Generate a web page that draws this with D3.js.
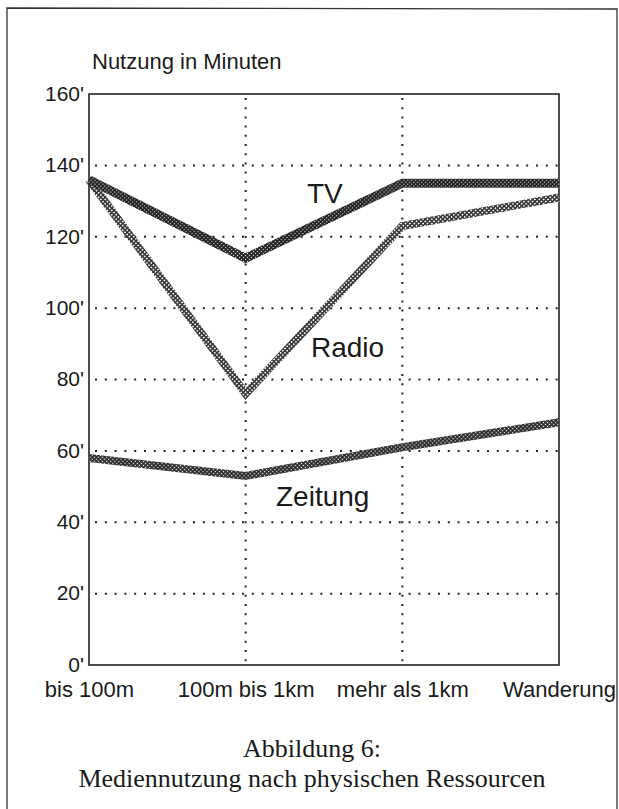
<!DOCTYPE html>
<html>
<head>
<meta charset="utf-8">
<script src="https://cdn.jsdelivr.net/npm/d3@7/dist/d3.min.js"></script>
<style>
  html, body { margin: 0; padding: 0; background: #fff; }
  svg { display: block; }
  .sans { font-family: "Liberation Sans", Arial, Helvetica, sans-serif; fill: #1a1a1a; }
  .serif { font-family: "Liberation Serif", "Times New Roman", serif; fill: #1a1a1a; }
</style>
</head>
<body>
<svg id="chart" width="619" height="809"></svg>
<script>
// ---- data ----
const categories = ["bis 100m", "100m bis 1km", "mehr als 1km", "Wanderung"];
const tvValues = [136, 114, 135, 135];
const radioValues = [136, 76, 123, 131];
const zeitungValues = [58, 53, 61, 68];
const yTickValues = [0, 20, 40, 60, 80, 100, 120, 140, 160];
const yTickLabels = ["0'", "20'", "40'", "60'", "80'", "100'", "120'", "140'", "160'"];
const seriesNames = ["TV", "Radio", "Zeitung"];
const axisTitle = "Nutzung in Minuten";
const captionLines = ["Abbildung 6:", "Mediennutzung nach physischen Ressourcen"];

// ---- layout ----
const plot = { left: 89, right: 559, top: 94, bottom: 665 };
const svg = d3.select("#chart");

const x = d3.scalePoint().domain(categories).range([plot.left, plot.right]);
const y = d3.scaleLinear().domain([0, 160]).range([plot.bottom, plot.top]);

// patterns for the screened (dithered) lines
const defs = svg.append("defs");
function pattern(id, bg, dot, size, dotSize) {
  const p = defs.append("pattern").attr("id", id)
    .attr("patternUnits", "userSpaceOnUse")
    .attr("width", size).attr("height", size)
    .attr("patternTransform", "rotate(45)");
  p.append("rect").attr("width", size).attr("height", size).attr("fill", bg);
  p.append("circle").attr("cx", size / 2).attr("cy", size / 2).attr("r", dotSize).attr("fill", dot);
}
pattern("patTV", "#1f1f1f", "#f0f0f0", 2.8, 0.62);
pattern("patRadio", "#333333", "#ffffff", 3.1, 0.9);
pattern("patZeitung", "#2a2a2a", "#f4f4f4", 2.9, 0.75);

// outer frame
svg.append("path")
  .attr("d", "M7,809 L7,8 L617,9 L617,809")
  .attr("fill", "none").attr("stroke", "#333").attr("stroke-width", 1.3);

// horizontal dotted gridlines
svg.append("g").selectAll("line")
  .data(yTickValues.filter(v => v > 0 && v < 160))
  .join("line")
  .attr("x1", plot.left).attr("x2", plot.right)
  .attr("y1", d => y(d)).attr("y2", d => y(d))
  .attr("stroke", "#222").attr("stroke-width", 2)
  .attr("stroke-dasharray", "2,7.8")
  .attr("stroke-dashoffset", -6);

// vertical dotted gridlines
svg.append("g").selectAll("line")
  .data(categories.slice(1, 3))
  .join("line")
  .attr("x1", d => x(d)).attr("x2", d => x(d))
  .attr("y1", plot.top).attr("y2", plot.bottom)
  .attr("stroke", "#222").attr("stroke-width", 2)
  .attr("stroke-dasharray", "2,7.2")
  .attr("stroke-dashoffset", -4);

// plot box
svg.append("rect")
  .attr("x", plot.left).attr("y", plot.top)
  .attr("width", plot.right - plot.left).attr("height", plot.bottom - plot.top)
  .attr("fill", "none").attr("stroke", "#222").attr("stroke-width", 1.6);

// y axis labels via d3 axis
const yAxis = d3.axisLeft(y).tickValues(yTickValues)
  .tickFormat((d, i) => yTickLabels[i]).tickSize(0).tickPadding(5);
const gy = svg.append("g").attr("transform", `translate(${plot.left},0)`).call(yAxis);
gy.select(".domain").remove();
gy.selectAll("text").attr("font-size", 21).attr("dy", "0.3em")
  .style("font-family", "'Liberation Sans', Arial, sans-serif").attr("fill", "#1a1a1a");

// x axis labels
const xAxis = d3.axisBottom(x).tickSize(0).tickPadding(16);
const gx = svg.append("g").attr("transform", `translate(0,${plot.bottom})`).call(xAxis);
gx.select(".domain").remove();
gx.selectAll("text").attr("font-size", 22)
  .style("font-family", "'Liberation Sans', Arial, sans-serif").attr("fill", "#1a1a1a");

// axis title
svg.append("text").attr("class", "sans")
  .attr("x", 92).attr("y", 69).attr("font-size", 22).text(axisTitle);

// lines
const line = d3.line().x((d, i) => x(categories[i])).y(d => y(d)).curve(d3.curveLinear);
const series = [
  { name: seriesNames[1], values: radioValues, pat: "url(#patRadio)", w: 8 },
  { name: seriesNames[2], values: zeitungValues, pat: "url(#patZeitung)", w: 8 },
  { name: seriesNames[0], values: tvValues, pat: "url(#patTV)", w: 9 }
];
svg.append("g").selectAll("path")
  .data(series).join("path")
  .attr("d", d => line(d.values))
  .attr("fill", "none")
  .attr("stroke", d => d.pat)
  .attr("stroke-width", d => d.w)
  .attr("stroke-linejoin", "miter");

// series labels
const labelPos = [
  { t: seriesNames[0], x: 307, y: 203 },
  { t: seriesNames[1], x: 311, y: 357 },
  { t: seriesNames[2], x: 276, y: 506 }
];
svg.append("g").selectAll("text")
  .data(labelPos).join("text")
  .attr("class", "sans").attr("font-size", 28)
  .attr("x", d => d.x).attr("y", d => d.y).text(d => d.t);

// caption
svg.append("g").selectAll("text")
  .data(captionLines).join("text")
  .attr("class", "serif").attr("font-size", 26)
  .attr("text-anchor", "middle")
  .attr("x", 312).attr("y", (d, i) => 757 + i * 30)
  .text(d => d);
</script>
</body>
</html>
